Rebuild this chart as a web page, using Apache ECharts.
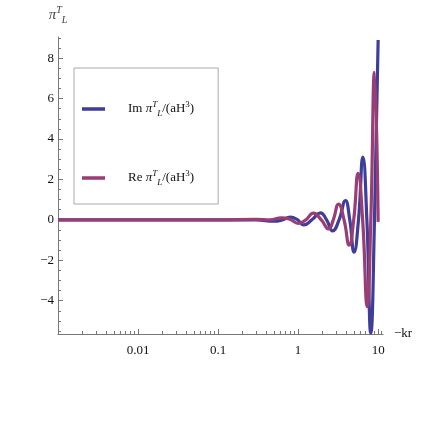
<!DOCTYPE html>
<html>
<head>
<meta charset="utf-8">
<script src="https://cdn.jsdelivr.net/npm/echarts@6/dist/echarts.min.js"></script>
<style>
html, body { margin: 0; padding: 0; background: #fff; }
#chart { width: 436px; height: 436px; }
</style>
</head>
<body>
<div id="chart"></div>
<script>
// values (kr on a log axis)
var imKr   = [0.001, 0.01, 0.1, 0.3, 0.5, 0.62, 0.8, 0.97, 1.18, 1.5, 1.9, 2.27, 2.7, 3.25, 3.9, 4.42, 5.0, 5.68, 6.45, 7.23, 8.1, 9.0, 10];
var imVals = [0, 0, 0, 0, -0.07, -0.02, 0.13, 0.02, -0.25, 0.02, 0.35, 0.0, -0.55, 0.0, 0.95, 0.0, -1.6, 0.0, 3.1, 0.0, -5.6, 0.0, 8.9];

var reKr   = [0.001, 0.01, 0.1, 0.3, 0.45, 0.62, 0.8, 1.0, 1.25, 1.55, 1.95, 2.4, 2.75, 3.2, 3.75, 4.35, 4.95, 5.62, 6.4, 7.3, 8.1, 9.0, 10];
var reVals = [0, 0, 0, 0.02, 0.0, 0.1, 0.02, -0.17, 0.0, 0.33, 0.0, -0.45, 0.0, 0.78, 0.0, -1.25, 0.0, 2.3, 0.0, -4.3, 0.0, 7.3, -0.1];

// axis ticks
var xMajorTicks = [0.01, 0.1, 1, 10];
var xMinorTicks = [0.002, 0.003, 0.004, 0.005, 0.006, 0.007, 0.008, 0.009,
                   0.02, 0.03, 0.04, 0.05, 0.06, 0.07, 0.08, 0.09,
                   0.2, 0.3, 0.4, 0.5, 0.6, 0.7, 0.8, 0.9,
                   2, 3, 4, 5, 6, 7, 8, 9, 11];
var yMajorTicks = [-4, -2, 0, 2, 4, 6, 8];
var yMinorTicks = [-5.5, -5, -4.5, -3.5, -3, -2.5, -1.5, -1, -0.5, 0.5, 1, 1.5,
                   2.5, 3, 3.5, 4.5, 5, 5.5, 6.5, 7, 7.5, 8.5, 9];

var X_MIN = 0.001, X_MAX = 11.5;
var Y_MIN = -5.65, Y_MAX = 9.05;

var blue = 'rgb(62,61,153)';
var plum = 'rgb(153,61,116)';
var axisColor = '#777';
var textColor = '#111';
var serif = '"Liberation Serif", "DejaVu Serif", serif';

function zip(xs, ys) {
  return xs.map(function (x, i) { return [x, ys[i]]; });
}

var richText = {
  f:   { fontFamily: serif, fontSize: 13, color: textColor, padding: [0, 0, 0, 18] },
  n:   { fontFamily: serif, fontSize: 13, color: textColor },
  i:   { fontFamily: serif, fontSize: 13, color: textColor, fontStyle: 'italic' },
  big: { fontFamily: serif, fontSize: 15, color: '#444', fontStyle: 'italic' },
  sup: { fontFamily: serif, fontSize: 9, color: textColor, fontStyle: 'italic', verticalAlign: 'top', lineHeight: 9 },
  sub: { fontFamily: serif, fontSize: 9, color: textColor, fontStyle: 'italic', verticalAlign: 'bottom', lineHeight: 9 },
  sup3:{ fontFamily: serif, fontSize: 9, color: textColor, verticalAlign: 'top', lineHeight: 9 },
  gsup:{ fontFamily: serif, fontSize: 10, color: '#444', fontStyle: 'italic', verticalAlign: 'top', lineHeight: 10 },
  gsub:{ fontFamily: serif, fontSize: 10, color: '#444', fontStyle: 'italic', verticalAlign: 'bottom', lineHeight: 10 }
};

var chart = echarts.init(document.getElementById('chart'));

var option = {
  animation: false,
  backgroundColor: '#fff',
  grid: { left: 58, right: 53, top: 37, bottom: 102, containLabel: false },
  legend: {
    data: ['Im', 'Re'],
    orient: 'vertical',
    left: 74,
    top: 68,
    icon: 'rect',
    itemWidth: 23,
    itemHeight: 3.5,
    itemGap: 51,
    padding: [32, 24, 17, 8],
    borderColor: '#aaa',
    borderWidth: 1,
    formatter: function (name) {
      return '{f|' + name + ' }{i|π}{sup|T}{sub|L}{n|/(aH}{sup3|3}{n|)}';
    },
    textStyle: { rich: richText, lineHeight: 18 }
  },
  xAxis: [{
    type: 'log',
    logBase: 10,
    min: X_MIN,
    max: X_MAX,
    name: '−kr',
    nameLocation: 'end',
    nameGap: 11,
    nameTextStyle: { fontFamily: serif, fontSize: 13, color: textColor, verticalAlign: 'middle', padding: [5, 0, 0, 0] },
    axisLine: { onZero: false, lineStyle: { color: axisColor, width: 1 } },
    axisTick: { inside: true, length: 5, customValues: xMajorTicks, lineStyle: { color: axisColor } },
    axisLabel: {
      customValues: xMajorTicks,
      margin: 10,
      fontFamily: serif, fontSize: 13, color: textColor,
      formatter: function (v) { return String(+(+v).toPrecision(3)); }
    },
    splitLine: { show: false },
    minorTick: { show: false }
  }, {
    type: 'log',
    logBase: 10,
    min: X_MIN,
    max: X_MAX,
    position: 'bottom',
    axisLine: { show: false, onZero: false },
    axisTick: { inside: true, length: 3, customValues: xMinorTicks, lineStyle: { color: axisColor } },
    axisLabel: { show: false },
    splitLine: { show: false }
  }],
  yAxis: [{
    type: 'value',
    min: Y_MIN,
    max: Y_MAX,
    name: '{big|π}{gsup|T}{gsub|L}',
    nameLocation: 'end',
    nameGap: 12,
    nameTextStyle: { rich: richText, lineHeight: 20 },
    axisLine: { show: true, onZero: false, lineStyle: { color: axisColor, width: 1 } },
    axisTick: { show: true, inside: true, length: 5, customValues: yMajorTicks, lineStyle: { color: axisColor } },
    axisLabel: {
      customValues: yMajorTicks,
      margin: 4,
      fontFamily: serif, fontSize: 13, color: textColor,
      formatter: function (v) { return String(v).replace('-', '−'); }
    },
    splitLine: { show: false }
  }, {
    type: 'value',
    min: Y_MIN,
    max: Y_MAX,
    position: 'left',
    axisLine: { show: false, onZero: false },
    axisTick: { show: true, inside: true, length: 3, customValues: yMinorTicks, lineStyle: { color: axisColor } },
    axisLabel: { show: false },
    splitLine: { show: false }
  }],
  series: [{
    name: 'Im',
    type: 'line',
    xAxisIndex: 0,
    yAxisIndex: 0,
    data: zip(imKr, imVals),
    smooth: 0.5,
    showSymbol: false,
    color: blue,
    lineStyle: { color: blue, width: 3.2 }
  }, {
    name: 'Re',
    type: 'line',
    xAxisIndex: 0,
    yAxisIndex: 0,
    data: zip(reKr, reVals),
    smooth: 0.5,
    showSymbol: false,
    color: plum,
    lineStyle: { color: plum, width: 3.2 }
  }]
};

chart.setOption(option);
</script>
</body>
</html>
